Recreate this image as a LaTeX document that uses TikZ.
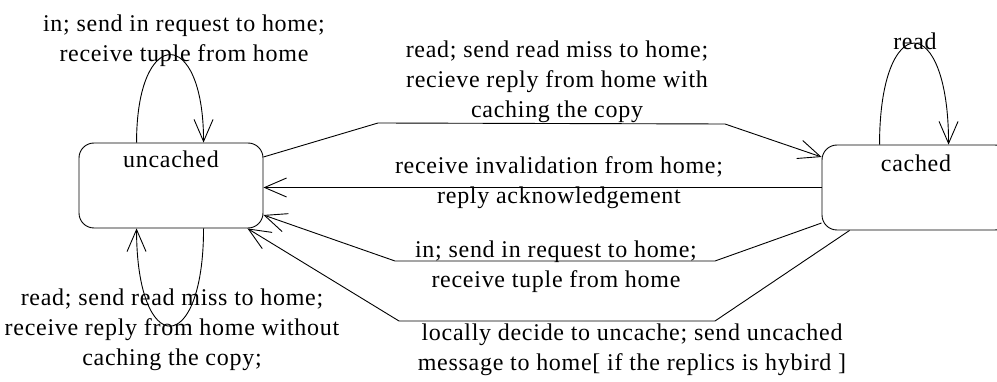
\documentclass[tikz,border=0pt]{standalone}
\usepackage{fontspec}
\setmainfont[LetterSpace=3]{Liberation Serif}
\usetikzlibrary{arrows.meta,calc}

\tikzset{
  txt/.style={font=\fontsize{24}{30}\selectfont},
  statebox/.style={draw, txt, rounded corners=15pt, line width=0.9pt,
    minimum width=184pt, minimum height=85pt, inner sep=0pt},
  lbl/.style={txt, align=center, inner sep=0pt},
  trans/.style={draw, line width=0.9pt,
    -{Straight Barb[length=22pt, width=19pt, line width=0.9pt]}},
}

\begin{document}
\begin{tikzpicture}[x=1pt, y=-1pt]
  \useasboundingbox (0,0) rectangle (997,382);
  \clip (0,0) rectangle (997,382);

  % states
  \node[statebox, text height=25pt, text depth=60pt] (unc) at (171,185.5) {uncached};
  \node[statebox, minimum width=188pt, text height=27pt, text depth=58pt] (cac) at (916,187.5) {cached};

  % self loops
  \draw[trans] ($(unc.north west)+(58,0)$) .. controls +(0,-117) and +(0,-117) .. ($(unc.north west)+(125,0)$);
  \draw[trans] ($(unc.south west)+(125,0)$) .. controls +(0,130) and +(0,130) .. ($(unc.south west)+(58,0)$);
  \draw[trans] ($(cac.north west)+(58,0)$) .. controls +(0,-135) and +(0,-135) .. ($(cac.north west)+(127,0)$);

  % transitions between the two states
  \draw[trans] ($(unc.east)+(0,-28.5)$) -- (378,123) -- (725,124) -- ($(cac.west)+(0,-30.5)$);
  \draw[trans] (cac.west) -- (cac.west -| unc.east);
  \draw[trans] ($(cac.west)+(0,35.5)$) -- (715,261) -- (395,261) -- ($(unc.east)+(0,29.5)$);
  \draw[trans] ($(cac.south west)+(28,0)$) -- (715,321) -- (399,321) -- ($(unc.south east)+(-16,0)$);

  % labels
  \node[lbl] (lintop) at (184,41) {in; send in request to home;\\receive tuple from home};
  \node[lbl] (lreadbot) at (172,330) {read; send read miss to home;\\receive reply from home without\\caching the copy;};
  \node[lbl] (lreadmiss) at (557,82) {read; send read miss to home;\\recieve reply from home with\\caching the copy};
  \node[lbl] (linval) at (559,183) {receive invalidation from home;\\reply acknowledgement};
  \node[lbl] (lin) at (556,267) {in; send in request to home;\\receive tuple from home};
  \node[lbl] (luncache) at (632,350) {locally decide to uncache; send uncached\\message to home[ if the replics is hybird ]};
  \node[lbl] (lread) at (915,41) {read};
\end{tikzpicture}
\end{document}
